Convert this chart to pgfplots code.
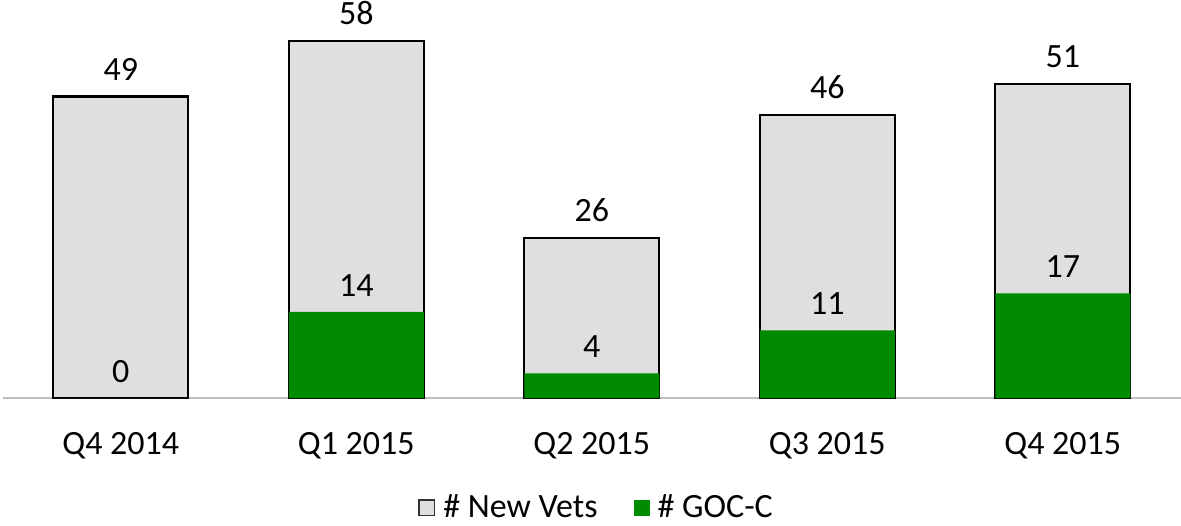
\documentclass[border=0pt]{standalone}
\usepackage{fontspec}
\setmainfont{Carlito}
\usepackage{pgfplots}
\pgfplotsset{compat=1.18}
\definecolor{barGray}{HTML}{DFDFDF}
\definecolor{barGreen}{HTML}{008A00}
\definecolor{axGray}{HTML}{BFBFBF}
\begin{document}
\begin{tikzpicture}
\begin{axis}[
  scale only axis,
  width=588.75pt, height=199pt,
  xmin=-0.5, xmax=4.5, ymin=0, ymax=64.66,
  axis x line*=bottom, axis y line=none,
  x axis line style={draw=axGray, line width=0.8pt, -},
  xtick={0,1,2,3,4},
  xticklabels={Q4 2014, Q1 2015, Q2 2015, Q3 2015, Q4 2015},
  major tick length=0pt,
  xticklabel style={font=\fontsize{17}{20}\selectfont, inner sep=0pt, anchor=north, yshift=-17pt},
  /pgf/number format/assume math mode=true,
  nodes near coords,
  every node near coord/.append style={font=\fontsize{17}{20}\selectfont, inner sep=0pt, anchor=south, yshift=7.5pt, text=black},
  legend style={at={(axis description cs:0.505,-0.276)}, anchor=center, legend columns=2, draw=none, fill=none,
    font=\fontsize{17}{20}\selectfont,
    /tikz/every odd column/.append style={column sep=2pt},
    /tikz/every even column/.append style={column sep=16pt}},
  legend cell align=left,
  clip=false,
]
\addplot[ybar, bar width=67.5pt, bar shift=0pt, fill=barGray, draw=black, line width=1.2pt,
  legend image code/.code={\draw[fill=barGray, draw=black!80, line width=0.8pt] (0pt,-3.8pt) rectangle (7.6pt,3.8pt);}]
  coordinates {(0,49) (1,58) (2,26) (3,46) (4,51)};
\addlegendentry{\# New Vets}
\addplot[ybar, bar width=67.5pt, bar shift=0pt, fill=barGreen, draw=none,
  legend image code/.code={\fill[barGreen] (0pt,-4pt) rectangle (8pt,4pt);}]
  coordinates {(0,0) (1,14) (2,4) (3,11) (4,17)};
\addlegendentry{\# GOC-C}
\end{axis}
\pgfresetboundingbox
\path[use as bounding box] (-1.5pt,-63.5pt) rectangle (589pt,199pt);
\end{tikzpicture}
\end{document}
